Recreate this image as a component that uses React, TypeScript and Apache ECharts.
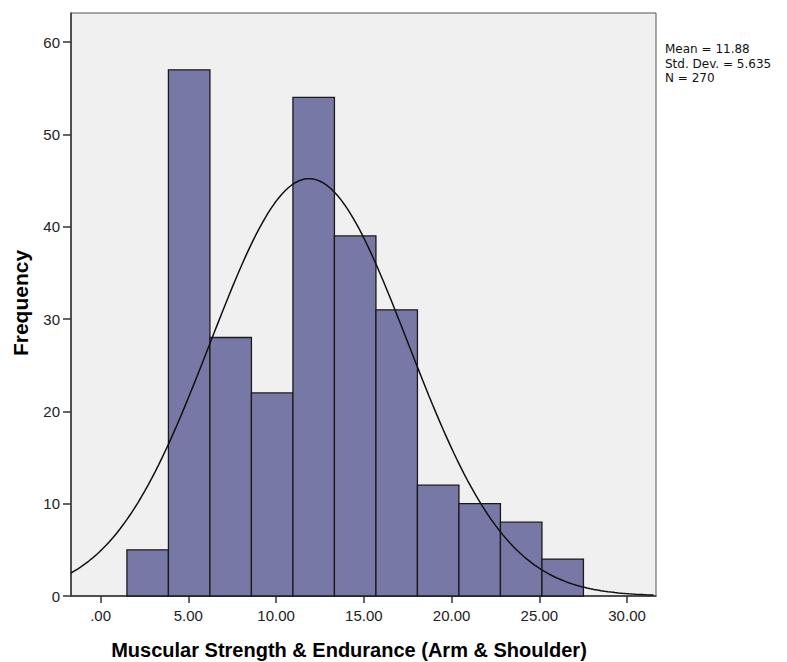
import React, { useEffect, useRef } from "react";
import * as echarts from "echarts";

// Histogram bins (lower/upper edges) and frequencies
const binLower = [1.5, 3.865, 6.23, 8.595, 10.96, 13.325, 15.69, 18.055, 20.42, 22.785, 25.15];
const binUpper = [3.865, 6.23, 8.595, 10.96, 13.325, 15.69, 18.055, 20.42, 22.785, 25.15, 27.515];
const frequencies = [5, 57, 28, 22, 54, 39, 31, 12, 10, 8, 4];

// Stated summary statistics
const statMean = 11.88;
const statSD = 5.635;
const statN = 270;

const xTicks = [0, 5, 10, 15, 20, 25, 30];
const yTicks = [0, 10, 20, 30, 40, 50, 60];
const statLines = ["Mean = 11.88", "Std. Dev. = 5.635", "N = 270"];

const FONT = "'Liberation Sans', Arial, sans-serif";

export default function App() {
  const ref = useRef<HTMLDivElement>(null);
  useEffect(() => {
    if (!ref.current) return;
    const chart = echarts.init(ref.current, null, { renderer: "svg" });
    const xMin = -1.687;
    const xMax = 31.65;
    const bw = binUpper[0] - binLower[0];
    const curve: number[][] = [];
    for (let x = xMin; x <= xMax + 0.001; x += 0.2) {
      const z = (x - statMean) / statSD;
      const y = (statN * bw) / (statSD * Math.sqrt(2 * Math.PI)) * Math.exp(-0.5 * z * z);
      curve.push([x, y]);
    }
    const histData = frequencies.map((f, i) => [binLower[i], binUpper[i], f]);
    chart.setOption({
      animation: false,
      grid: {
        left: 71,
        right: 131,
        top: 13,
        bottom: 66,
        show: true,
        backgroundColor: "#f0f0f0",
        borderColor: "#555",
        borderWidth: 1,
      },
      xAxis: {
        type: "value",
        min: xMin,
        max: xMax,
        axisLine: { show: true, onZero: false, lineStyle: { color: "#333", width: 1.5 } },
        axisTick: { show: true, customValues: xTicks, length: 7, lineStyle: { color: "#333", width: 1.5 } },
        axisLabel: {
          customValues: xTicks,
          formatter: (v: number) => (v === 0 ? ".00" : v.toFixed(2)),
          color: "#222",
          fontFamily: FONT,
          fontSize: 15,
          margin: 12,
        },
        splitLine: { show: false },
      },
      yAxis: {
        type: "value",
        min: 0,
        max: 63.15,
        axisLine: { show: true, onZero: false, lineStyle: { color: "#333", width: 1.5 } },
        axisTick: { show: true, customValues: yTicks, length: 8, lineStyle: { color: "#333", width: 1.5 } },
        axisLabel: {
          customValues: yTicks,
          color: "#222",
          fontFamily: FONT,
          fontSize: 15,
          margin: 11,
        },
        splitLine: { show: false },
      },
      series: [
        {
          type: "custom",
          data: histData,
          encode: { x: [0, 1], y: 2 },
          renderItem: (params: any, api: any) => {
            const p0 = api.coord([api.value(0), api.value(2)]);
            const p1 = api.coord([api.value(1), 0]);
            return {
              type: "rect",
              shape: { x: p0[0], y: p0[1], width: p1[0] - p0[0], height: p1[1] - p0[1] },
              style: { fill: "#7878a6", stroke: "#1a1a1a", lineWidth: 1.3 },
            };
          },
          z: 2,
        },
        {
          type: "line",
          data: curve,
          showSymbol: false,
          smooth: false,
          lineStyle: { color: "#111", width: 1.5 },
          z: 3,
        },
      ],
      graphic: [
        {
          type: "text",
          left: 665,
          top: 42,
          style: {
            text: statLines.join("\n"),
            fontFamily: "'DejaVu Sans', sans-serif",
            fontSize: 12,
            lineHeight: 14.5,
            fill: "#111",
          },
        },
        {
          type: "text",
          x: 349,
          y: 650,
          style: {
            text: "Muscular Strength & Endurance (Arm & Shoulder)",
            fontFamily: FONT,
            fontSize: 20,
            fontWeight: "bold",
            fill: "#000",
            align: "center",
            verticalAlign: "middle",
          },
        },
        {
          type: "text",
          x: 20,
          y: 303,
          rotation: Math.PI / 2,
          style: {
            text: "Frequency",
            fontFamily: FONT,
            fontSize: 21,
            fontWeight: "bold",
            fill: "#000",
            align: "center",
            verticalAlign: "middle",
          },
        },
      ],
    });
    return () => chart.dispose();
  }, []);
  return (
    <div
      ref={ref}
      style={{ position: "fixed", left: 0, top: 0, width: 787, height: 662, background: "#fff" }}
    />
  );
}
